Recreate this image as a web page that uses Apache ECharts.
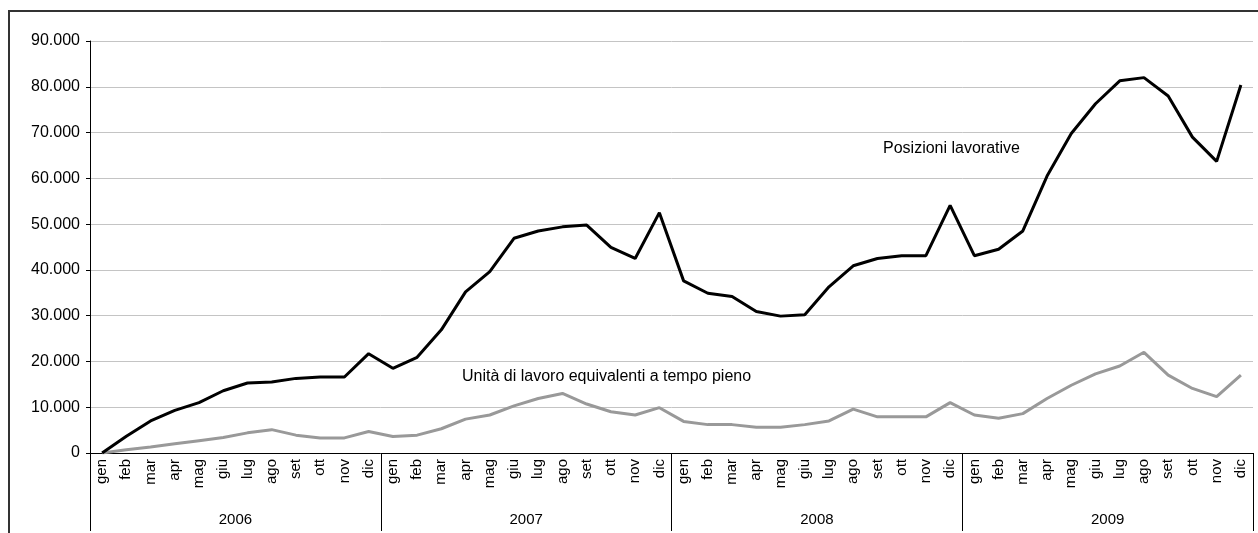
<!DOCTYPE html>
<html>
<head>
<meta charset="utf-8">
<script src="https://cdn.jsdelivr.net/npm/echarts@6/dist/echarts.min.js"></script>
<style>
  html, body { margin: 0; padding: 0; background: #fff; }
  #chart { width: 1258px; height: 533px; }
</style>
</head>
<body>
<div id="chart"></div>
<script>
// Month and year labels for the two-level category axis
const months = ['gen','feb','mar','apr','mag','giu','lug','ago','set','ott','nov','dic'];
const years = ['2006','2007','2008','2009'];

// Posizioni lavorative, monthly 2006-2009
const posizioni = [
  0, 3650, 7000, 9300, 11000, 13600, 15300, 15500, 16300, 16600, 16600, 21700,
  18500, 20900, 26900, 35200, 39600, 46900, 48500, 49400, 49800, 44900, 42500, 52500,
  37600, 34900, 34200, 30900, 29900, 30200, 36300, 40900, 42500, 43100, 43100, 54100,
  43100, 44500, 48500, 60500, 69800, 76300, 81300, 82000, 78000, 69000, 63700, 80400
];

// Unità di lavoro equivalenti a tempo pieno, monthly 2006-2009
const ula = [
  0, 700, 1300, 2000, 2700, 3400, 4400, 5100, 3900, 3300, 3300, 4700,
  3600, 3900, 5300, 7400, 8300, 10300, 11900, 13000, 10700, 9000, 8300, 9900,
  6900, 6200, 6200, 5600, 5600, 6200, 7000, 9600, 7900, 7900, 7900, 11000,
  8300, 7600, 8600, 11900, 14800, 17300, 19000, 22000, 17000, 14100, 12300, 17000
];

const monthLabels = [];
years.forEach(() => months.forEach(m => monthLabels.push(m)));

const FONT = '"Liberation Sans", Arial, sans-serif';

const chart = echarts.init(document.getElementById('chart'), null, { renderer: 'canvas' });
chart.setOption({
  animation: false,
  backgroundColor: '#fff',
  textStyle: { fontFamily: FONT },
  grid: { left: 90, right: 5, top: 41, bottom: 80, containLabel: false },
  xAxis: [
    {
      type: 'category',
      data: monthLabels,
      boundaryGap: true,
      axisLine: { show: true, lineStyle: { color: '#000', width: 1 } },
      axisTick: { show: false },
      axisLabel: { interval: 0, rotate: 90, fontSize: 15, color: '#000', margin: 6, fontFamily: FONT },
      splitLine: { show: false }
    },
    {
      type: 'category',
      data: years,
      position: 'bottom',
      boundaryGap: true,
      axisLine: { show: false },
      axisTick: { show: true, length: 78, lineStyle: { color: '#000', width: 1 } },
      axisLabel: { fontSize: 15, color: '#000', margin: 59, fontFamily: FONT },
      splitLine: { show: false }
    }
  ],
  yAxis: {
    type: 'value',
    min: 0,
    max: 90000,
    interval: 10000,
    axisLine: { show: true, lineStyle: { color: '#000', width: 1 } },
    axisTick: { show: true, length: 4, lineStyle: { color: '#000' } },
    axisLabel: {
      fontSize: 16, color: '#000', margin: 10, fontFamily: FONT,
      formatter: v => v === 0 ? '0' : v.toString().replace(/\B(?=(\d{3})+(?!\d))/g, '.')
    },
    splitLine: { show: true, lineStyle: { color: '#c4c4c4', width: 1 } }
  },
  graphic: [
    {
      type: 'rect',
      shape: { x: 9, y: 11, width: 1400, height: 700 },
      style: { fill: 'none', stroke: '#333', lineWidth: 2 },
      silent: true
    },
    {
      type: 'text',
      left: 883, top: 141,
      style: { text: 'Posizioni lavorative', font: '16px ' + FONT, fill: '#000' }
    },
    {
      type: 'text',
      left: 462, top: 369,
      style: { text: 'Unità di lavoro equivalenti a tempo pieno', font: '16px ' + FONT, fill: '#000' }
    }
  ],
  series: [
    {
      name: 'Posizioni lavorative',
      type: 'line',
      xAxisIndex: 0,
      data: posizioni,
      symbol: 'none',
      lineStyle: { color: '#000', width: 3 },
      z: 3
    },
    {
      name: 'Unità di lavoro equivalenti a tempo pieno',
      type: 'line',
      xAxisIndex: 0,
      data: ula,
      symbol: 'none',
      lineStyle: { color: '#999', width: 3 },
      z: 2
    }
  ]
});
</script>
</body>
</html>
